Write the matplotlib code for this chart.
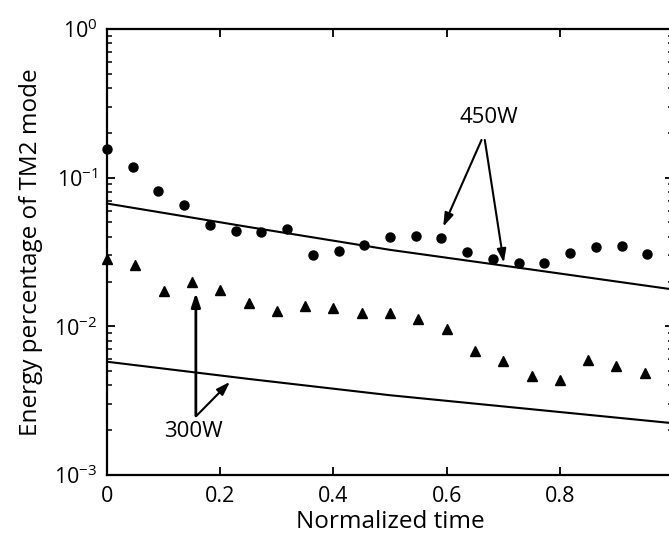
import matplotlib
matplotlib.use('Agg')
import matplotlib.pyplot as plt
import numpy as np

# 450W measured points (circles), sampled every 1/22 of normalized time
t_450 = [0, 1/22, 2/22, 3/22, 4/22, 5/22, 6/22, 7/22, 8/22, 9/22, 10/22,
         11/22, 12/22, 13/22, 14/22, 15/22, 16/22, 17/22, 18/22, 19/22, 20/22, 21/22]
e_450 = [0.156, 0.118, 0.0814, 0.0655, 0.0481, 0.0438, 0.0431, 0.0452, 0.0302, 0.0321, 0.0353,
         0.0399, 0.0405, 0.0393, 0.0316, 0.0284, 0.0267, 0.0267, 0.0312, 0.0342, 0.0347, 0.0307]

# 300W measured points (triangles)
t_300 = [0, 0.05, 0.1, 0.15, 0.2, 0.25, 0.3, 0.35, 0.4, 0.45,
         0.5, 0.55, 0.6, 0.65, 0.7, 0.75, 0.8, 0.85, 0.9, 0.95]
e_300 = [0.0284, 0.0259, 0.0173, 0.0199, 0.0176, 0.01436, 0.0127, 0.0137, 0.0133, 0.0123,
         0.0123, 0.0112, 0.00961, 0.00684, 0.00586, 0.00465, 0.00436, 0.00594, 0.00542, 0.00486]

# model curves
t_line = [0, 0.25, 0.5, 0.75, 1.0]
line_450 = [0.0670, 0.0466, 0.0327, 0.0241, 0.0177]
line_300 = [0.00578, 0.00443, 0.00344, 0.00277, 0.00223]

xticks = [0, 0.2, 0.4, 0.6, 0.8, 1.0]
xticklabels = ['0', '0.2', '0.4', '0.6', '0.8', '1']
yticks = [1e-3, 1e-2, 1e-1, 1e0]
yticklabels = [r'$10^{-3}$', r'$10^{-2}$', r'$10^{-1}$', r'$10^{0}$']

plt.rcParams['font.family'] = ['Open Sans', 'DejaVu Sans']
plt.rcParams['mathtext.fontset'] = 'custom'
plt.rcParams['mathtext.rm'] = 'Open Sans'
plt.rcParams['mathtext.it'] = 'Open Sans:italic'
plt.rcParams['axes.unicode_minus'] = True


def makePlot():
    fig = plt.figure(figsize=(6.69, 5.37), dpi=100)
    ax = fig.add_axes([107/669, 62/537, 566/669, 446/537])
    ax.set_yscale('log')
    ax.set_xlim(0, 1)
    ax.set_ylim(1e-3, 1e0)

    ax.plot(t_line, line_450, color='black', lw=1.5)
    ax.plot(t_line, line_300, color='black', lw=1.5)
    ax.plot(t_450, e_450, 'o', color='black', ms=6.5, clip_on=False, zorder=5)
    ax.plot(t_300, e_300, '^', color='black', ms=7, clip_on=False, zorder=5)

    arrow = dict(arrowstyle='-|>,head_length=0.45,head_width=0.15', color='black',
                 lw=1.5, mutation_scale=18, shrinkA=0, shrinkB=0)
    ax.text(0.6746, 0.252, '450W', ha='center', va='center', fontsize=16)
    ax.annotate('', xy=(0.594, 0.0468), xytext=(0.6617, 0.1793), arrowprops=arrow)
    ax.annotate('', xy=(0.701, 0.0268), xytext=(0.6675, 0.1793), arrowprops=arrow)
    ax.text(0.152, 0.00195, '300W', ha='center', va='center', fontsize=16)
    ax.annotate('', xy=(0.157, 0.01677), xytext=(0.157, 0.0025),
                arrowprops=dict(arrow, lw=2))
    ax.annotate('', xy=(0.2172, 0.00423), xytext=(0.158, 0.0025), arrowprops=arrow)

    ax.set_xticks(xticks)
    ax.set_xticklabels(xticklabels)
    ax.set_yticks(yticks)
    ax.set_yticklabels(yticklabels)
    ax.xaxis.set_minor_locator(plt.NullLocator())
    ax.tick_params(which='both', direction='in', top=True, right=True, labelsize=15.5)
    ax.tick_params(which='major', length=6, width=1.3)
    ax.tick_params(which='minor', length=3.5, width=1.1)
    ax.tick_params(axis='x', pad=8)
    ax.tick_params(axis='y', pad=7)
    for s in ax.spines.values():
        s.set_linewidth(1.6)

    ax.set_xlabel('Normalized time', fontsize=17.5, labelpad=2)
    ax.set_ylabel('Energy percentage of TM2 mode', fontsize=17.5, labelpad=8)

    plt.savefig('out.png', dpi=100)


if __name__ == "__main__":
    makePlot()
